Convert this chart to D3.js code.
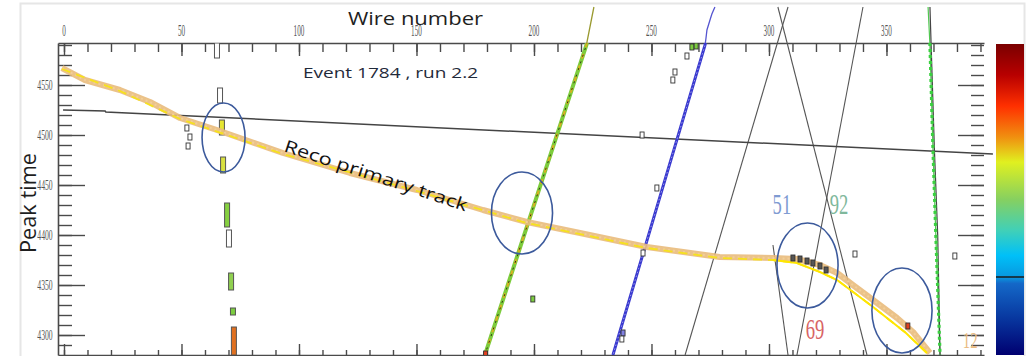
<!DOCTYPE html>
<html>
<head>
<meta charset="utf-8">
<script src="https://cdn.jsdelivr.net/npm/d3@7"></script>
<style>
  html, body { margin: 0; padding: 0; background: #fff; }
  svg { display: block; }
</style>
</head>
<body>
<svg id="chart" width="1030" height="356"></svg>
<script>
// ---- Event display data (wire number, peak time) ----
const xMajorTicks = [0, 50, 100, 150, 200, 250, 300, 350];
const xMinorTicks = d3.range(0, 391, 10);
const yMajorTicks = [4300, 4350, 4400, 4450, 4500, 4550];
const yMinorTicks = d3.range(4290, 4592, 10);

// hits along the primary track
const primaryHits = [
  [-0.9, 4567], [8.9, 4555], [23.8, 4545], [36.6, 4533], [49.4, 4517],
  [65.1, 4505], [93.2, 4482], [121.7, 4462], [150.2, 4445], [178.3, 4425],
  [197, 4413], [219.6, 4402], [248, 4388], [279, 4378], [301.7, 4377],
  [311.9, 4376], [321.7, 4370], [329, 4362], [335.7, 4350], [344.3, 4335],
  [354.5, 4317], [361.3, 4303], [368.5, 4282]
];
// reconstructed primary track
const recoTrack = [
  [-0.9, 4566], [23.8, 4544], [49.4, 4516], [93.2, 4481], [150.2, 4444],
  [197, 4412], [248, 4387], [279, 4377], [301.7, 4375], [311.9, 4372],
  [321.7, 4363], [329, 4355], [344.3, 4328], [358.3, 4302], [367.2, 4282]
];
// nearly flat track crossing the whole view
const flatTrack = [[-0.4, 4525], [17.5, 4524], [17.8, 4523], [395.3, 4481]];
// steep green track
const greenTrack = [[225.5, 4628], [222.3, 4590], [179.1, 4280]];
// blue track
const blueTrack = [
  [277.0, 4628], [275.7, 4621], [274.9, 4615], [273.6, 4605],
  [273.2, 4597], [272.8, 4590], [233.6, 4280]
];
// thin crossing tracks
const crossTracks = [
  [[308.1, 4628], [264.3, 4280]],
  [[303.8, 4628], [341.7, 4280]],
  [[340.0, 4628], [311.9, 4280]],
  [[301.7, 4390], [308.1, 4280]]
];
// near-vertical track at the right edge
const edgeTrack = [[368.5, 4628], [369.4, 4560], [370.4, 4485], [371.8, 4400], [372.8, 4280]];
const edgeHits = [[367.7, 4628], [368.5, 4590], [369.8, 4485], [371.0, 4400], [372.8, 4280]];

// short hit clusters near wire 70: [wire, time top, time bottom, fill]
const columnHits = [
  [65.1, 4592, 4577, "#ffffff"],
  [66.4, 4547, 4532, "#ffffff"],
  [67.2, 4515, 4500, "#e6e632"],
  [67.7, 4478, 4462, "#d8e040"],
  [69.4, 4432, 4408, "#86d040"],
  [70.2, 4405, 4388, "#ffffff"],
  [71.1, 4362, 4345, "#90d050"],
  [71.9, 4327, 4320, "#7ccc40"],
  [72.3, 4308, 4280, "#e07020"]
];
// isolated small hits: [wire, time, fill]
const looseHits = [
  [52.3, 4507, "#fff"], [53.6, 4498, "#fff"], [52.8, 4489, "#fff"],
  [246, 4500, "#fff"], [252.3, 4447, "#fff"], [246.4, 4382, "#fff"],
  [237.9, 4302, "#8080e0"], [237.4, 4296, "#fff"],
  [265.1, 4579, "#fff"], [260, 4563, "#fff"], [259.1, 4555, "#fff"],
  [267.2, 4588, "#7ccc40"], [269, 4589, "#7ccc40"],
  [336.6, 4381, "#fff"], [379.1, 4379, "#fff"],
  [310.2, 4377, "#555"], [313.2, 4376, "#555"], [316.2, 4374, "#555"],
  [318.7, 4372, "#555"], [321.7, 4369, "#555"], [324.3, 4365, "#555"],
  [359.1, 4309, "#e04020"], [199.5, 4336, "#7ccc40"], [179.4, 4281, "#e04020"]
];
// circled regions: [wire, time, half-width in wires, half-height in time]
const circles = [
  [67.9, 4497.5, 9.15, 34.5],
  [194.9, 4422, 13.0, 41],
  [316.4, 4369.5, 13.0, 42.5],
  [356.6, 4324.5, 12.8, 42.5]
];
// track id labels: [text, wire, time, colour, size]
const trackLabels = [
  ["51", 305.5, 4421, "#7f9bd2", 30],
  ["92", 329.8, 4421, "#7fb89c", 30],
  ["69", 319.6, 4296, "#d86464", 30],
  ["12", 385.6, 4287, "#eabb82", 24]
];

const svg = d3.select("#chart");
const x = d3.scaleLinear().domain([-2.55, 391.5]).range([58, 984]);
const y = d3.scaleLinear().domain([4280, 4592]).range([355, 43]);
const line = d3.line().x(d => x(d[0])).y(d => y(d[1]));

// outer frame
svg.append("rect").attr("x", 20.5).attr("y", 3.5).attr("width", 1004).attr("height", 360)
  .attr("fill", "none").attr("stroke", "#e6e6e6").attr("stroke-width", 2);

const defs = svg.append("defs");
defs.append("clipPath").attr("id", "plot")
  .append("rect").attr("x", 58).attr("y", 43).attr("width", 926).attr("height", 312);

// ---- axes ----
function styleAxis(g, keepDomain) {
  g.selectAll("line").attr("stroke", "#4a4a4a").attr("stroke-width", 1.4);
  g.selectAll("path.domain").attr("stroke", keepDomain ? "#4a4a4a" : "none").attr("stroke-width", 1.6);
  g.selectAll("text").remove();
}
const topAxis = svg.append("g");
topAxis.append("g").attr("transform", "translate(0,43)")
  .call(d3.axisBottom(x).tickValues(xMinorTicks).tickSizeInner(9).tickSizeOuter(0))
  .call(g => styleAxis(g, true));
topAxis.append("g").attr("transform", "translate(0,43)")
  .call(d3.axisBottom(x).tickValues(xMajorTicks).tickSizeInner(13).tickSizeOuter(0))
  .call(g => styleAxis(g, false));
const bottomAxis = svg.append("g");
bottomAxis.append("g").attr("transform", "translate(0,355)")
  .call(d3.axisTop(x).tickValues(xMinorTicks).tickSizeInner(5).tickSizeOuter(0))
  .call(g => styleAxis(g, true));
bottomAxis.append("g").attr("transform", "translate(0,355)")
  .call(d3.axisTop(x).tickValues(xMajorTicks).tickSizeInner(11).tickSizeOuter(0))
  .call(g => styleAxis(g, false));
const leftAxis = svg.append("g");
leftAxis.append("g").attr("transform", "translate(58,0)")
  .call(d3.axisRight(y).tickValues(yMinorTicks).tickSizeInner(14).tickSizeOuter(0))
  .call(g => styleAxis(g, true));
leftAxis.append("g").attr("transform", "translate(58,0)")
  .call(d3.axisRight(y).tickValues(yMajorTicks).tickSizeInner(27).tickSizeOuter(0))
  .call(g => styleAxis(g, false));
const rightAxis = svg.append("g");
rightAxis.append("g").attr("transform", "translate(984,0)")
  .call(d3.axisLeft(y).tickValues(yMinorTicks).tickSizeInner(13).tickSizeOuter(0))
  .call(g => styleAxis(g, false));
rightAxis.append("g").attr("transform", "translate(984,0)")
  .call(d3.axisLeft(y).tickValues(yMajorTicks).tickSizeInner(26).tickSizeOuter(0))
  .call(g => styleAxis(g, false));

// condensed serif tick labels
svg.append("g").selectAll("text").data(xMajorTicks).join("text")
  .attr("transform", d => `translate(${x(d)},36) scale(0.45,1)`)
  .attr("text-anchor", "middle").attr("font-family", "Liberation Serif")
  .attr("font-size", 16).attr("fill", "#555").text(d => d);
svg.append("g").selectAll("text").data(yMajorTicks).join("text")
  .attr("transform", d => `translate(45,${y(d) + 5}) scale(0.55,1)`)
  .attr("text-anchor", "middle").attr("font-family", "Liberation Serif")
  .attr("font-size", 14).attr("fill", "#555").text(d => d);

// axis titles
svg.append("text").attr("x", 348).attr("y", 25).attr("textLength", 135)
  .attr("lengthAdjust", "spacingAndGlyphs")
  .attr("font-family", "Open Sans").attr("font-size", 18).attr("fill", "#1e1e1e")
  .text("Wire number");
svg.append("text").attr("transform", "translate(36,253) rotate(-90)")
  .attr("textLength", 100).attr("lengthAdjust", "spacingAndGlyphs")
  .attr("font-family", "Open Sans").attr("font-size", 21).attr("fill", "#1e1e1e")
  .text("Peak time");

// ---- tracks ----
const thin = svg.append("g").attr("fill", "none");
crossTracks.forEach(t => thin.append("path").attr("d", line(t))
  .attr("stroke", "#555").attr("stroke-width", 1.1));
thin.append("path").attr("d", line(greenTrack)).attr("stroke", "#9a9a30").attr("stroke-width", 1.3);
thin.append("path").attr("d", line(blueTrack)).attr("stroke", "#5555d0").attr("stroke-width", 1.3);
thin.append("path").attr("d", line(edgeHits)).attr("stroke", "#50c850").attr("stroke-width", 1.2);
thin.append("path").attr("d", line(edgeTrack)).attr("stroke", "#444").attr("stroke-width", 1.2);
thin.append("path").attr("d", line(flatTrack)).attr("stroke", "#444").attr("stroke-width", 1.5);

const hits = svg.append("g").attr("clip-path", "url(#plot)").attr("fill", "none");
// green track hits
hits.append("path").attr("d", line(greenTrack)).attr("stroke", "#7ccc3c").attr("stroke-width", 4);
hits.append("path").attr("d", line(greenTrack)).attr("stroke", "#d8b020").attr("stroke-width", 2)
  .attr("stroke-dasharray", "5,7");
hits.append("path").attr("d", line(greenTrack)).attr("stroke", "#303810").attr("stroke-width", 1)
  .attr("stroke-dasharray", "2,5");
// blue track hits
hits.append("path").attr("d", line(blueTrack)).attr("stroke", "#3a3ad0").attr("stroke-width", 3);
hits.append("path").attr("d", line(blueTrack)).attr("stroke", "#9a9ae8").attr("stroke-width", 1)
  .attr("stroke-dasharray", "1.5,2.5");
// right edge hits
hits.append("path").attr("d", line(edgeHits)).attr("stroke", "#3ad040").attr("stroke-width", 3.2)
  .attr("stroke-dasharray", "3,3");

// hit columns near wire 70
hits.append("g").selectAll("rect").data(columnHits).join("rect")
  .attr("x", d => x(d[0]) - 2.5).attr("width", 5)
  .attr("y", d => y(d[1])).attr("height", d => y(d[2]) - y(d[1]))
  .attr("fill", d => d[3]).attr("stroke", "#555").attr("stroke-width", 1);

// primary track hits and reconstruction
hits.append("path").attr("d", line(primaryHits)).attr("stroke", "#e9bb7c").attr("stroke-width", 6)
  .attr("stroke-linejoin", "round").attr("opacity", 0.9);
hits.append("path").attr("d", line(primaryHits)).attr("stroke", "#f2cf98").attr("stroke-width", 2)
  .attr("stroke-dasharray", "2,3");
hits.append("path").attr("d", line(recoTrack)).attr("stroke", "#f6e21c").attr("stroke-width", 1.8)
  .attr("stroke-dasharray", "9,6");
hits.append("path").attr("d", line(recoTrack.filter(d => d[0] > 290))).attr("stroke", "#ffe600")
  .attr("stroke-width", 2);

// loose hits
hits.append("g").selectAll("rect").data(looseHits).join("rect")
  .attr("x", d => x(d[0]) - 2).attr("y", d => y(d[1]) - 3)
  .attr("width", 4).attr("height", 6)
  .attr("fill", d => d[2]).attr("stroke", "#333").attr("stroke-width", 0.9);

// ---- annotations ----
svg.append("g").selectAll("ellipse").data(circles).join("ellipse")
  .attr("cx", d => x(d[0])).attr("cy", d => y(d[1]))
  .attr("rx", d => x(d[0] + d[2]) - x(d[0])).attr("ry", d => y(d[1] - d[3]) - y(d[1]))
  .attr("fill", "none").attr("stroke", "#3c5a9c").attr("stroke-width", 1.6);

svg.append("g").selectAll("text").data(trackLabels).join("text")
  .attr("transform", d => `translate(${x(d[1])},${y(d[2])}) scale(0.62,1)`)
  .attr("text-anchor", "middle").attr("font-family", "Liberation Serif")
  .attr("font-size", d => d[4]).attr("fill", d => d[3]).text(d => d[0]);

svg.append("text").attr("x", 303).attr("y", 78).attr("textLength", 175)
  .attr("lengthAdjust", "spacingAndGlyphs")
  .attr("font-family", "Open Sans").attr("font-size", 15).attr("fill", "#1f2a3a")
  .text("Event 1784 , run 2.2");
svg.append("text").attr("transform", "translate(283,151) rotate(18.3)")
  .attr("textLength", 192).attr("lengthAdjust", "spacingAndGlyphs")
  .attr("font-family", "Open Sans").attr("font-size", 17).attr("fill", "#111")
  .text("Reco primary track");

// ---- colour scale ----
const jetStops = [
  [0, "#7a0000"], [0.1, "#b80000"], [0.2, "#ff3000"], [0.3, "#f09010"],
  [0.38, "#e0f020"], [0.5, "#86d060"], [0.6, "#40d0b8"], [0.68, "#00c0f8"],
  [0.75, "#0898e0"], [0.77, "#1468c8"], [0.88, "#0838a0"], [1, "#000070"]
];
const grad = defs.append("linearGradient").attr("id", "jet")
  .attr("x1", 0).attr("y1", 0).attr("x2", 0).attr("y2", 1);
grad.selectAll("stop").data(jetStops).join("stop")
  .attr("offset", d => d[0]).attr("stop-color", d => d[1]);
svg.append("rect").attr("x", 996).attr("y", 44).attr("width", 28).attr("height", 311)
  .attr("fill", "url(#jet)");
svg.append("line").attr("x1", 996).attr("x2", 1024).attr("y1", 277).attr("y2", 277)
  .attr("stroke", "#1a1a1a").attr("stroke-width", 1.5);
</script>
</body>
</html>
